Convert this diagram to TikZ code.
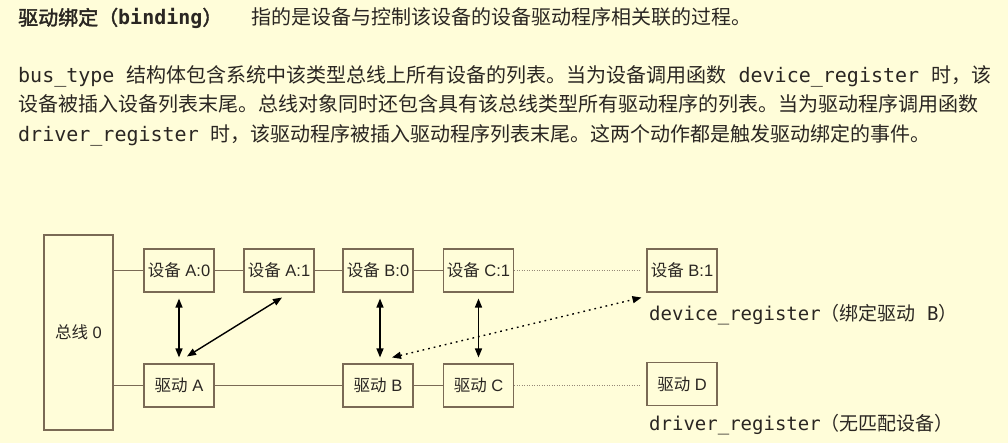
\documentclass[tikz,border=0pt]{standalone}
\usepackage{fontspec}
\setmainfont{Noto Sans CJK SC}[AutoFakeBold=2]
\newfontfamily\mymono{DejaVu Sans Mono}
\newfontfamily\myhv{Liberation Sans}
\usetikzlibrary{arrows.meta}
\definecolor{bg}{HTML}{FFFDD9}
\definecolor{edge}{HTML}{7A6A55}
\definecolor{ink}{HTML}{2A2622}
\begin{document}
\begin{tikzpicture}[x=1pt,y=-1pt,
  txt/.style={anchor=base west, inner sep=0pt, text=ink, font=\fontsize{20pt}{24pt}\selectfont},
  lbl/.style={anchor=base west, inner sep=0pt, text=ink, font=\fontsize{19pt}{23pt}\selectfont},
  box/.style={draw=edge, line width=1.1pt, minimum width=70pt, minimum height=43pt, inner sep=0pt, text=ink, font=\fontsize{16.5pt}{19pt}\selectfont},
  link/.style={draw=edge, line width=1pt},
  faint/.style={draw=edge!80, line width=0.8pt, dash pattern=on 1pt off 1.5pt},
  bind/.style={black, line width=1.4pt, {Triangle[length=9pt,width=7pt]}-{Triangle[length=9pt,width=7pt]}},
  bindd/.style={bind, dash pattern=on 1.7pt off 4pt}
  ]
\fill[bg] (0,0) rectangle (1008,443);
\useasboundingbox (0,0) rectangle (1008,443);

% text
\node[txt] (t1) at (18,25) {\bfseries 驱动绑定（{\mymono binding}）};
\node[txt] (t1b) at (251,25) {指的是设备与控制该设备的设备驱动程序相关联的过程。};
\node[txt] (t2) at (18,83) {{\mymono bus\_type }结构体包含系统中该类型总线上所有设备的列表。当为设备调用函数{\mymono\ device\_register }时，该};
\node[txt] (t3) at (18,112) {设备被插入设备列表末尾。总线对象同时还包含具有该总线类型所有驱动程序的列表。当为驱动程序调用函数};
\node[txt] (t4) at (18,142) {{\mymono driver\_register }时，该驱动程序被插入驱动程序列表末尾。这两个动作都是触发驱动绑定的事件。};

% boxes
\node[box, minimum width=69pt, minimum height=195pt] (bus) at (78.5,332.5) {总线{\myhv\ 0}};
\node[box] (a0) at (179,270.5) {设备{\myhv\ A:0}};
\node[box] (a1) at (279,270.5) {设备{\myhv\ A:1}};
\node[box] (b0) at (378,270.5) {设备{\myhv\ B:0}};
\node[box] (c1) at (478.5,270.5) {设备{\myhv\ C:1}};
\node[box] (b1) at (682,270.5) {设备{\myhv\ B:1}};
\node[box] (da) at (179,385.5) {驱动{\myhv\ A}};
\node[box] (db) at (378,385.5) {驱动{\myhv\ B}};
\node[box] (dc) at (478.5,385.5) {驱动{\myhv\ C}};
\node[box] (dd) at (682,384) {驱动{\myhv\ D}};

% labels
\node[lbl] (l1) at (649,320) {{\mymono device\_register}（绑定驱动{\mymono\ B}）};
\node[lbl] (l2) at (649,430) {{\mymono driver\_register}（无匹配设备）};

% device row
\draw[link] (bus.east |- a0.west) -- (a0.west);
\draw[link] (a0.east) -- (a1.west);
\draw[link] (a1.east) -- (b0.west);
\draw[link] (b0.east) -- (c1.west);
\draw[faint] (c1.east) -- ([xshift=-7pt]b1.west);
% driver row
\draw[link] (bus.east |- da.west) -- (da.west);
\draw[link] (da.east) -- (db.west);
\draw[link] (db.east) -- (dc.west);
\draw[faint] (dc.east) -- ([xshift=-7pt]dd.west |- dc.east);

% bindings
\draw[bind, shorten <=6pt, shorten >=6pt] (a0.south) -- (da.north);
\draw[bind] ([xshift=3pt,yshift=-5pt]a1.south) -- ([xshift=8pt,yshift=7pt]da.north);
\draw[bind, shorten <=6pt, shorten >=6pt] ([xshift=2pt]b0.south) -- ([xshift=2pt]db.north);
\draw[bind, shorten <=6pt, shorten >=6pt] (c1.south) -- (dc.north);
\draw[bindd] ([xshift=14pt,yshift=6pt]db.north) -- ([xshift=-5pt,yshift=-5pt]b1.south west);
\end{tikzpicture}
\end{document}
